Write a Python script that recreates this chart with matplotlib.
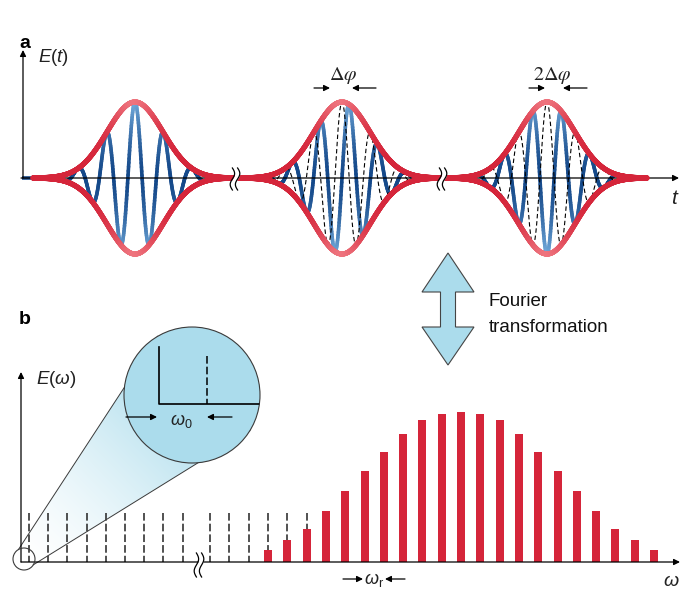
import numpy as np
import matplotlib
matplotlib.use("Agg")
import matplotlib.pyplot as plt
from matplotlib.collections import LineCollection
from matplotlib.patches import Circle, Polygon
from matplotlib.colors import LinearSegmentedColormap, to_rgb

plt.rcParams['font.family'] = ['Liberation Sans', 'DejaVu Sans']
plt.rcParams['mathtext.fontset'] = 'custom'
plt.rcParams['mathtext.it'] = 'Liberation Sans:italic'
plt.rcParams['mathtext.rm'] = 'Liberation Sans'

# --- Data ---
phase_steps = [0, 1, 2]                  # carrier-envelope slip, in units of dphi
phase_labels = ['', r'$\Delta\varphi$', r'$2\Delta\varphi$']
comb_heights = [12, 22, 33, 51, 71, 91, 110, 128, 142, 148, 150,
                148, 142, 128, 110, 91, 71, 51, 33, 22, 12]
n_comb_left = 9                          # dashed comb lines before the axis break
n_comb_right = 6                         # dashed comb lines after the break

# --- Layout (pixels) ---
pulse_centers = [135, 342, 547]
seg_edges = [33, 235, 442, 647]
slip_tips = [None, (330, 352), (545, 563)]   # arrow tips above pulses 2 and 3
slip_text_x = [None, 343, 552]
Y_T = 178          # time axis
Y_W = 562          # frequency axis
AMP = 76
SIG = 28
PERIOD = 28.5

RED = '#d5253a'
RED_LIGHT = '#ee737d'
BLUE_DARK = '#144889'
BLUE_LIGHT = '#72aadb'
CYAN = '#abdcec'
GREY = '#3a3a3a'


def colored_line(ax, x, y, vals, c0, c1, lw, z):
    pts = np.column_stack([x, y]).reshape(-1, 1, 2)
    segs = np.concatenate([pts[:-1], pts[1:]], axis=1)
    cmap = LinearSegmentedColormap.from_list('g', [c0, c1])
    v = 0.5 * (vals[:-1] + vals[1:])
    lc = LineCollection(segs, colors=cmap(np.clip(v, 0, 1)), linewidths=lw,
                        capstyle='round', joinstyle='round', zorder=z)
    ax.add_collection(lc)


def axis_break(ax, xc, yc, h=11, gap=2.6):
    yy = np.linspace(yc - h, yc + h, 60)
    wob = -2.2 * np.sin(np.pi * (yy - yc) / h)
    ax.fill_betweenx(yy, xc - gap + wob, xc + gap + wob, color='white', zorder=8, lw=0)
    for s in (-gap, gap):
        ax.plot(xc + s + wob, yy, color='k', lw=0.9, zorder=9)


def arrow(ax, x0, y0, x1, y1, lw=0.9, ms=9, z=5, color='k'):
    ax.annotate('', xy=(x1, y1), xytext=(x0, y0), zorder=z,
                arrowprops=dict(arrowstyle='-|>', lw=lw, color=color,
                                mutation_scale=ms, shrinkA=0, shrinkB=0))


fig = plt.figure(figsize=(6.8, 5.91), dpi=100)
ax = fig.add_axes([0, 0, 1, 1])

# --- Panel a: pulse train ---
k = 2 * np.pi / PERIOD
for i, (xc, step) in enumerate(zip(pulse_centers, phase_steps)):
    x = np.linspace(seg_edges[i], seg_edges[i + 1], 800)
    env = np.exp(-(x - xc) ** 2 / (2 * SIG ** 2))
    shift = step * PERIOD / 4
    carrier = np.cos(k * (x - xc - shift)) * env
    m = env > 0.02
    colored_line(ax, x[m], Y_T - AMP * carrier[m], np.abs(carrier[m]) ** 1.5,
                 BLUE_DARK, BLUE_LIGHT, 2.6, 2)
    if step > 0:
        ref = np.cos(k * (x - xc)) * env
        ax.plot(x[m], Y_T - AMP * ref[m], color='k', lw=0.8,
                ls=(0, (4, 2.5)), zorder=3)
        tl, tr = slip_tips[i]
        arrow(ax, tl - 16, 88, tl, 88)
        arrow(ax, tr + 24, 88, tr, 88)
        ax.text(slip_text_x[i], 75, phase_labels[i], ha='center', va='center',
                fontsize=14.5, math_fontfamily='stix', color='#222222')
    colored_line(ax, x, Y_T - AMP * env, env ** 3, RED, RED_LIGHT, 3.7, 5)
    colored_line(ax, x, Y_T + AMP * env, env ** 3, RED, RED_LIGHT, 3.7, 5)

ax.plot([22, 33], [Y_T, Y_T], color=BLUE_DARK, lw=2.6, zorder=4, solid_capstyle='butt')
arrow(ax, 21, Y_T, 679, Y_T, z=4)
arrow(ax, 23, Y_T, 23, 50)
ax.text(38, 58, r'$E$(${t}$)', fontsize=13.5, ha='left', va='center', color='#222222')
ax.text(675, 198, r'$t$', fontsize=15, ha='center', va='center', color='#222222')
for xb in (235, 442):
    axis_break(ax, xb, Y_T + 1)
ax.text(19, 44, 'a', fontsize=14, fontweight='bold', ha='left', va='center')

# --- Fourier arrow ---
fa = [(448, 253), (474, 292), (455.5, 292), (455.5, 327), (474, 327), (448, 365),
      (422, 327), (440.5, 327), (440.5, 292), (422, 292)]
ax.add_patch(Polygon(fa, closed=True, fc=CYAN, ec='#444444', lw=0.8, zorder=3))
ax.text(489, 302, 'Fourier', fontsize=13.5, ha='left', va='center', color='#111111')
ax.text(489, 328, 'transformation', fontsize=13.5, ha='left', va='center', color='#111111')

# --- Panel b: frequency comb ---
ax.text(19, 319, 'b', fontsize=14, fontweight='bold', ha='left', va='center')
arrow(ax, 21, Y_W, 680, Y_W, z=6)
arrow(ax, 21, Y_W, 21, 372, z=6)
ax.text(36, 379, r'$E$($\omega$)', fontsize=13.5, ha='left', va='center', color='#222222')
ax.text(663, 581, r'$\omega$', fontsize=14, ha='left', va='center', color='#222222')

comb_x = [29 + 19.2 * i for i in range(n_comb_left)] + \
         [210 + 19.3 * i for i in range(n_comb_right)]
ax.vlines(comb_x, 513, Y_W, colors='#222222', lw=1.1, linestyles=(0, (5, 2)), zorder=2)

bar_x = [268 + 19.3 * i for i in range(len(comb_heights))]
ax.bar(bar_x, [-h for h in comb_heights], bottom=Y_W, width=8, color=RED,
       lw=0, zorder=3)
axis_break(ax, 199, 565, h=12)

arrow(ax, 343, 579, 363, 579)
arrow(ax, 405, 579, 385, 579)
ax.text(374, 580, r'$\omega_{\mathrm{r}}$', fontsize=13, ha='center', va='center',
        color='#222222')

# --- Magnifier ---
c1 = np.array([24.0, 559.0]); r1 = 11.0
c2 = np.array([192.0, 395.0]); r2 = 68.0
d = c2 - c1
D = np.hypot(*d)
dh = d / D
th = np.arccos((r2 - r1) / D)
pts = []
for sgn in (1, -1):
    ca, sa = np.cos(sgn * th), np.sin(sgn * th)
    n = np.array([ca * dh[0] - sa * dh[1], sa * dh[0] + ca * dh[1]])
    pts.append((c1 + r1 * n, c2 + r2 * n))
cone = Polygon([pts[0][0], pts[0][1], pts[1][1], pts[1][0]], closed=True,
               fc='none', ec='none')
ax.add_patch(cone)
gx, gy = np.meshgrid(np.arange(0, 680) + 0.5, np.arange(0, 591) + 0.5)
t = ((gx - c1[0]) * dh[0] + (gy - c1[1]) * dh[1]) / D
w = np.clip(t, 0, 1) ** 1.4
img = np.ones((591, 680, 3)) * (1 - w)[..., None] + np.array(to_rgb(CYAN)) * w[..., None]
im = ax.imshow(img, extent=(0, 680, 591, 0), origin='upper', zorder=1,
               interpolation='bilinear')
im.set_clip_path(cone)
for p_small, p_big in pts:
    ax.plot([p_small[0], p_big[0]], [p_small[1], p_big[1]], color=GREY, lw=0.7, zorder=2)
ax.add_patch(Circle(c1, r1, fc='none', ec=GREY, lw=0.8, zorder=7))
big = Circle(c2, r2, fc=CYAN, ec=GREY, lw=0.8, zorder=7)
ax.add_patch(big)
l1, = ax.plot([159, 159, 270], [347, 404, 404], color='k', lw=1.2, zorder=8)
l1.set_clip_path(big)
l2, = ax.plot([207, 207], [356, 404], color='k', lw=1.1, ls=(0, (5, 2)), zorder=8)
l2.set_clip_path(big)
arrow(ax, 126, 417, 157, 417, z=8)
arrow(ax, 232, 417, 207, 417, z=8)
ax.text(181, 421, r'$\omega_{\mathrm{0}}$', fontsize=13, ha='center', va='center',
        color='#222222', zorder=9)

ax.set_xlim(0, 680)
ax.set_ylim(591, 0)
ax.axis('off')
fig.savefig('out.png', dpi=100)
